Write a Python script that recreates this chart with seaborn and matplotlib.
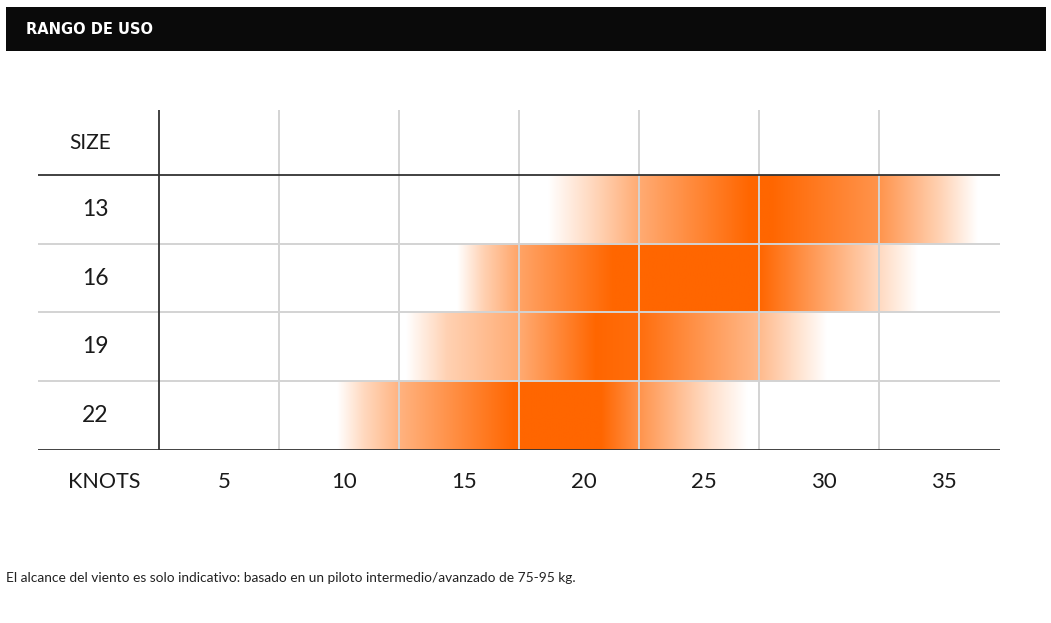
#Wind range chart (RANGO DE USO) rebuilt with seaborn + matplotlib
import numpy as np
import matplotlib
matplotlib.use("Agg")
import matplotlib.pyplot as plt
from matplotlib.patches import Rectangle
from matplotlib.colors import to_rgb
import seaborn as sns

#kite sizes, from top row to bottom row
sizes = ["13", "16", "19", "22"]

#knot ticks shown under the grid
knots = [5, 10, 15, 20, 25, 30, 35]

#gradient anchors for every size: wind (knots) and how strong the orange is there (0 = white, 1 = full)
wind_13 = [18.7, 20.5, 22.5, 27.1, 28.0, 32.5, 35.0, 36.6]
strength_13 = [0.0, 0.25, 0.55, 1.0, 1.0, 0.7, 0.3, 0.0]
wind_16 = [14.9, 16.0, 17.5, 21.4, 27.5, 31.5, 34.1]
strength_16 = [0.0, 0.3, 0.6, 1.0, 1.0, 0.4, 0.0]
wind_19 = [12.8, 14.5, 17.5, 20.7, 22.5, 27.5, 30.3]
strength_19 = [0.0, 0.3, 0.55, 1.0, 0.95, 0.45, 0.0]
wind_22 = [9.9, 11.0, 12.5, 17.3, 20.9, 22.5, 25.5, 27.0]
strength_22 = [0.0, 0.25, 0.5, 1.0, 1.0, 0.7, 0.2, 0.0]

winds = [wind_13, wind_16, wind_19, wind_22]
strengths = [strength_13, strength_16, strength_19, strength_22]

title = "RANGO DE USO"
note = "El alcance del viento es solo indicativo: basado en un piloto intermedio/avanzado de 75-95 kg."

orange = to_rgb("#ff6600")

sns.set_theme(style="white")
plt.rcParams['font.family'] = ['Lato', 'DejaVu Sans']

W, H = 1051, 623
fig = plt.figure(figsize=(W/100, H/100), dpi=100)
fig.patch.set_facecolor("white")

#black header bar with the title
fig.patches.append(Rectangle((6/W, 1-51/H), 1040/W, 44/H, transform=fig.transFigure,
                             facecolor="#0a0a0a", edgecolor="none"))
fig.text(26/W, 1-29/H, title, color="white", fontsize=10.5, fontweight="bold",
         family="DejaVu Sans", va="center", ha="left")

#the grid axes: x in knots, y in rows (0 at the bottom line)
ax = fig.add_axes([38/W, 1-450/H, 962/W, 340/H])
ax.set_xlim(-2.54, 37.54)
ax.set_ylim(0, 4.945)
ax.axis("off")

#orange gradients, one per row
n_rows = len(sizes)
for i, (w, s) in enumerate(zip(winds, strengths)):
    row = n_rows - 1 - i
    xs = np.linspace(w[0], w[-1], 600)
    a = np.interp(xs, w, s)
    img = np.ones((1, len(xs), 3))
    for c in range(3):
        img[0, :, c] = 1 - a*(1 - orange[c])
    ax.imshow(img, extent=(w[0], w[-1], row, row+1), aspect="auto",
              interpolation="bilinear", zorder=1)

#grid lines
light = "#d3d3d3"
dark = "#333333"
col_edges = [k + 2.5 for k in knots[:-1]]
ax.vlines(col_edges, 0, 4.945, color=light, lw=1.4, zorder=2)
ax.vlines(2.5, 0, 4.945, color=dark, lw=1.3, zorder=3)
ax.hlines([1, 2, 3], -2.54, 37.54, color=light, lw=1.4, zorder=2)
ax.hlines([0, 4], -2.54, 37.54, color=dark, lw=1.3, zorder=3)

#labels
ink = "#1a1a1a"
ax.text(-0.375, 4.47, "SIZE", fontsize=15, ha="center", va="center", color=ink)
for i, s in enumerate(sizes):
    ax.text(-0.15, n_rows - 1 - i + 0.5, s, fontsize=16.5, ha="center", va="center", color=ink)
ax.text(0.2, -0.465, "KNOTS", fontsize=15.5, ha="center", va="center", color=ink, clip_on=False)
for k in knots:
    ax.text(k + 0.22, -0.465, str(k), fontsize=16, ha="center", va="center", color=ink, clip_on=False)

#footnote
fig.text(6/W, 1-578/H, note, fontsize=9.9, color="#222222", ha="left", va="center")

fig.savefig("out.png", dpi=100)
